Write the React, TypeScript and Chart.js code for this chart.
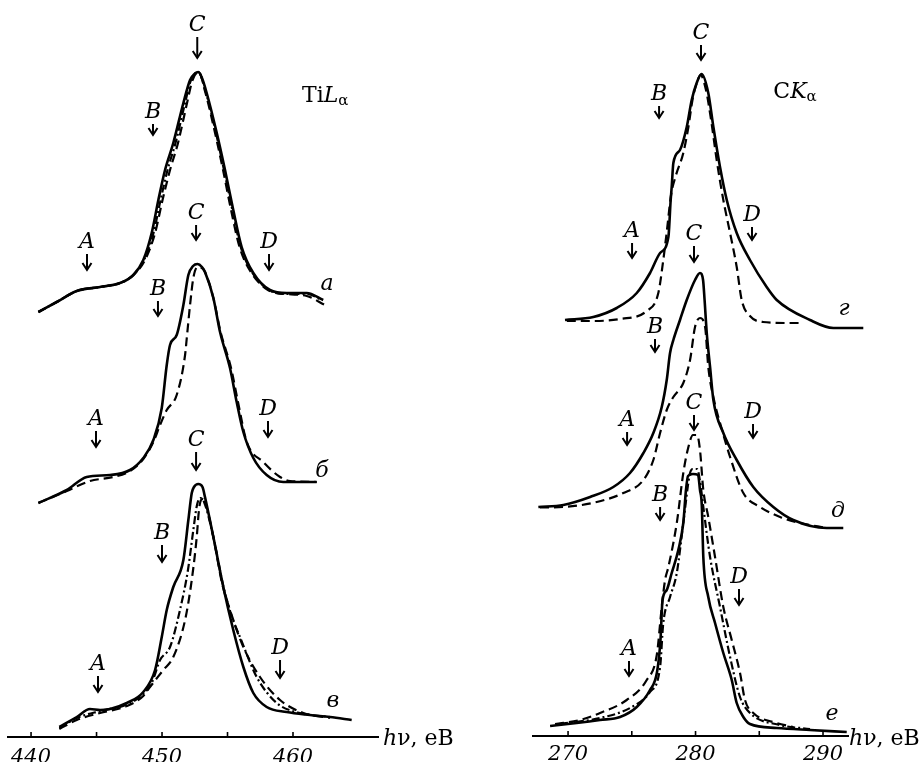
import React, { useEffect, useRef } from 'react';
import { Chart, registerables } from 'chart.js';
Chart.register(...registerables);

const FONT = '"DejaVu Serif", serif';

// ---------- Left panel: Ti Lα (hν, eV ; intensity, arb. units, curves offset) ----------
const tiTicks = [440, 445, 450, 455, 460];

const tiA_solid_x = [440.56, 441.96, 443.49, 445.27, 446.79, 447.81, 448.57, 449.21, 449.72, 450.23, 450.86, 451.63, 452.14, 452.48, 452.77, 453.05, 453.41, 454.18, 454.81, 455.44, 456.08, 456.97, 458.24, 459.52, 461.05, 462.31];
const tiA_solid_y = [425, 435, 446, 450, 454, 462, 477, 504, 537, 567, 594, 634, 657, 663, 665, 659, 644, 604, 567, 527, 490, 464, 447, 444, 444, 437];
const tiA_dash_x = [440.56, 441.96, 443.49, 445.27, 446.79, 447.81, 448.70, 449.47, 450.04, 450.61, 451.22, 451.91, 452.33, 452.79, 453.32, 454.05, 454.66, 455.27, 455.92, 456.83, 458.09, 459.52, 461.05, 462.44];
const tiA_dash_y = [425, 435, 446, 450, 454, 462, 477, 504, 537, 567, 594, 634, 657, 665, 644, 604, 567, 527, 490, 464, 447, 443, 441, 432];
const tiA_dot_x = [440.56, 441.96, 443.49, 445.27, 446.79, 447.81, 448.63, 449.35, 449.89, 450.42, 451.03, 451.76, 452.21, 452.77, 453.36, 454.12, 454.73, 455.37, 456.01, 456.91, 458.17, 459.52, 461.05, 462.21];
const tiA_dot_y = [425, 435, 446, 450, 454, 462, 477, 504, 537, 567, 594, 634, 657, 665, 644, 604, 567, 527, 490, 464, 447, 443, 443, 437];

const tiB_solid_x = [440.56, 442.73, 444.25, 446.03, 447.56, 448.57, 449.34, 449.98, 450.36, 450.61, 451.12, 451.63, 452.01, 452.37, 452.71, 453.05, 453.28, 453.92, 454.43, 455.19, 455.70, 456.21, 456.97, 457.99, 459.26, 461.81];
const tiB_solid_y = [234, 247, 260, 262, 267, 279, 297, 329, 372, 392, 402, 432, 462, 471, 473, 470, 465, 439, 405, 369, 335, 305, 279, 262, 255, 255];
const tiB_dash_x = [440.56, 442.73, 444.50, 446.28, 447.56, 448.57, 449.34, 449.85, 450.36, 451.12, 451.76, 451.89, 452.14, 452.39, 452.71, 453.05, 453.28, 453.92, 454.47, 455.27, 455.80, 456.47, 457.73, 459.01, 459.77, 461.81];
const tiB_dash_y = [234, 246, 256, 260, 266, 278, 295, 312, 327, 342, 382, 399, 432, 459, 470, 469, 465, 439, 405, 369, 335, 295, 275, 260, 256, 255];

const tiC_solid_x = [442.16, 443.49, 444.50, 445.27, 446.03, 447.31, 448.57, 449.47, 449.98, 450.36, 450.86, 451.63, 452.01, 452.27, 452.44, 452.77, 453.09, 453.28, 453.92, 454.68, 455.44, 456.21, 456.97, 457.99, 459.52, 461.30, 462.82, 464.48];
const tiC_solid_y = [10, 20, 28, 27, 28, 34, 45, 67, 100, 127, 150, 177, 217, 244, 250, 253, 250, 240, 200, 150, 107, 70, 44, 30, 25, 22, 20, 17];
const tiC_dash_x = [442.16, 443.49, 445.27, 447.31, 448.57, 449.08, 450.10, 450.86, 451.76, 452.27, 452.65, 452.82, 452.98, 453.13, 453.36, 453.92, 454.58, 455.19, 456.21, 457.48, 459.01, 460.79, 462.82];
const tiC_dash_y = [8, 17, 24, 31, 41, 50, 67, 80, 117, 157, 200, 227, 237, 238, 232, 200, 154, 127, 90, 60, 37, 24, 19];
const tiC_dot_x = [442.16, 443.49, 445.27, 447.31, 448.57, 449.24, 449.85, 450.61, 451.37, 451.98, 452.39, 452.67, 452.94, 453.21, 453.92, 454.66, 455.34, 455.95, 457.23, 458.76, 460.53, 462.82];
const tiC_dot_y = [9, 19, 26, 32.5, 43, 55, 77, 90, 127, 167, 207, 232, 239, 235, 200, 152, 120, 100, 60, 34, 24, 20];

// markers: letter, x (eV), letter baseline (intensity), arrow tip (intensity)
const tiMarkText = ['C', 'B', 'A', 'D', 'C', 'B', 'A', 'D', 'C', 'B', 'A', 'D'];
const tiMarkX = [452.69, 449.31, 444.27, 458.17, 452.60, 449.69, 444.96, 458.09, 452.60, 450.0, 445.11, 459.01];
const tiMarkY = [706, 619, 489, 489, 518, 442, 312, 322, 291, 198, 67, 83];
const tiMarkTip = [679, 602, 467, 467, 497, 421, 290, 300, 267, 175, 45, 59];
const tiCurveText = ['а', 'б', 'в'];
const tiCurveX = [462.6, 462.21, 463.05];
const tiCurveY = [447, 260, 30];

// ---------- Right panel: C Kα ----------
const cTicks = [270, 275, 280, 285, 290];

const cG_solid_x = [269.76, 271.98, 273.82, 275.39, 276.43, 277.22, 277.87, 278.05, 278.13, 278.26, 278.78, 279.31, 279.70, 280.09, 280.47, 281.00, 281.40, 281.92, 282.45, 283.23, 284.27, 285.58, 286.37, 288.98, 290.81, 293.16];
const cG_solid_y = [416, 419, 428, 443, 463, 483, 499, 536, 549, 573, 586, 609, 636, 653, 662, 643, 609, 569, 536, 503, 476, 449, 436, 416, 408, 408];
const cG_dash_x = [269.90, 271.98, 274.08, 276.17, 277.08, 277.47, 277.76, 278.08, 278.47, 279.04, 279.44, 279.76, 280.12, 280.39, 280.82, 281.22, 281.66, 282.18, 282.71, 283.23, 283.62, 284.27, 285.29, 287.41, 288.20];
const cG_dash_y = [415, 415, 417, 425, 443, 476, 506, 541, 561, 583, 609, 636, 654, 661, 646, 616, 576, 536, 503, 469, 436, 420, 414, 413, 413];

const cD_solid_x = [267.67, 269.63, 271.73, 273.55, 274.86, 275.91, 276.69, 277.35, 277.74, 278.00, 278.26, 278.78, 279.31, 279.96, 280.35, 280.59, 280.71, 280.88, 281.14, 281.40, 282.18, 283.23, 284.53, 286.10, 287.67, 290.29, 291.59];
const cD_solid_y = [229, 231, 239, 249, 263, 283, 303, 329, 356, 383, 396, 416, 436, 456, 463, 456, 436, 403, 369, 336, 303, 276, 249, 229, 216, 208, 208];
const cD_dash_x = [267.80, 269.63, 272.25, 274.34, 275.91, 276.69, 277.22, 277.74, 278.26, 279.04, 279.57, 279.96, 280.35, 280.75, 281.00, 281.45, 282.08, 282.71, 283.75, 285.06, 286.63, 288.20, 290.29];
const cD_dash_y = [228.5, 229, 234, 243, 256, 276, 303, 326, 339, 353, 376, 409, 418, 409, 369, 336, 306, 279, 243, 229, 219, 213, 208];

const cE_solid_x = [268.59, 270.68, 272.51, 274.08, 275.39, 276.43, 276.98, 277.25, 277.41, 277.74, 278.13, 278.65, 279.04, 279.25, 279.41, 279.80, 280.20, 280.35, 280.49, 280.61, 281.00, 281.53, 282.18, 282.84, 283.23, 283.75, 284.27, 286.37, 288.98, 291.86];
const cE_solid_y = [10, 13, 16, 19, 29, 46, 64, 96, 136, 146, 163, 186, 213, 246, 260, 262, 261, 246, 231, 179, 139, 113, 83, 56, 33, 19, 12, 8, 6, 4];
const cE_dash_x = [268.98, 270.94, 272.51, 274.60, 276.17, 276.96, 277.35, 277.61, 277.87, 278.53, 279.04, 279.44, 279.80, 280.12, 280.35, 280.61, 281.00, 281.53, 282.18, 282.84, 283.49, 283.88, 284.53, 286.37, 287.67];
const cE_dash_y = [12, 16, 23, 36, 56, 81, 129, 156, 169, 213, 263, 289, 301, 301, 286, 246, 219, 179, 129, 96, 63, 36, 23, 13, 9];
const cE_dot_x = [269.37, 272.51, 274.86, 276.43, 277.22, 277.47, 278.00, 278.53, 279.04, 279.57, 279.80, 280.12, 280.35, 280.61, 281.14, 281.92, 282.71, 283.49, 284.27, 286.63, 288.98];
const cE_dot_y = [12, 18, 28, 44, 69, 113, 139, 163, 213, 263, 267, 267, 255, 229, 179, 129, 79, 39, 23, 11, 7];

const cMarkText = ['C', 'B', 'A', 'D', 'C', 'B', 'A', 'D', 'C', 'B', 'A', 'D'];
const cMarkX = [280.43, 277.14, 275.02, 284.43, 279.88, 276.82, 274.63, 284.51, 279.88, 277.22, 274.78, 283.41];
const cMarkY = [697, 636, 499, 515, 496, 403, 310, 318, 327, 235, 81, 153];
const cMarkTip = [676, 618, 478, 496, 474, 384, 291, 298, 306, 216, 60, 131];
const cCurveText = ['г', 'д', 'е'];
const cCurveX = [291.65, 291.18, 290.71];
const cCurveY = [421, 219, 16];

type Style = 'solid' | 'dash' | 'dot';
const zip = (xs: number[], ys: number[]) => xs.map((x, i) => ({ x, y: ys[i] }));
const ds = (xs: number[], ys: number[], s: Style) => ({
  data: zip(xs, ys),
  borderColor: '#000',
  borderWidth: s === 'solid' ? 2.6 : 2.2,
  borderDash: s === 'solid' ? [] : s === 'dash' ? [9, 5] : [8, 3, 2, 3],
  pointRadius: 0,
  cubicInterpolationMode: 'monotone' as const,
  fill: false,
  clip: false as const,
});

type PanelCfg = {
  datasets: any[];
  min: number;
  max: number;
  yMax: number;
  ticks: number[];
  pad: { left: number; right: number; bottom: number };
  tickPad: number;
  markText: string[];
  markX: number[];
  markY: number[];
  markTip: number[];
  curveText: string[];
  curveX: number[];
  curveY: number[];
  title: [string, string, string];
  titleX: number;
  titleY: number;
  unitDx: number;
  unitDy: number;
};

function arrow(ctx: CanvasRenderingContext2D, x: number, y0: number, y1: number) {
  ctx.lineWidth = 2;
  ctx.beginPath();
  ctx.moveTo(x, y0);
  ctx.lineTo(x, y1);
  ctx.stroke();
  ctx.beginPath();
  ctx.moveTo(x - 4.5, y1 - 7);
  ctx.lineTo(x, y1);
  ctx.lineTo(x + 4.5, y1 - 7);
  ctx.stroke();
}

const decor = (p: PanelCfg) => ({
  id: 'decor',
  afterDatasetsDraw(chart: any) {
    const { ctx, chartArea } = chart;
    const x = chart.scales.x;
    const y = chart.scales.y;
    ctx.save();
    ctx.strokeStyle = '#000';
    ctx.fillStyle = '#000';
    ctx.lineCap = 'butt';
    // tick marks pointing upward
    ctx.lineWidth = 1.6;
    for (const v of p.ticks) {
      const px = x.getPixelForValue(v);
      ctx.beginPath();
      ctx.moveTo(px, chartArea.bottom);
      ctx.lineTo(px, chartArea.bottom - 5);
      ctx.stroke();
    }
    // A, B, C, D markers
    ctx.font = `italic 22px ${FONT}`;
    ctx.textAlign = 'center';
    ctx.textBaseline = 'alphabetic';
    for (let i = 0; i < p.markText.length; i++) {
      const px = x.getPixelForValue(p.markX[i]);
      const by = y.getPixelForValue(p.markY[i]);
      ctx.fillText(p.markText[i], px, by);
      arrow(ctx, px, by + 6, y.getPixelForValue(p.markTip[i]));
    }
    // curve labels
    for (let i = 0; i < p.curveText.length; i++) {
      ctx.fillText(p.curveText[i], x.getPixelForValue(p.curveX[i]), y.getPixelForValue(p.curveY[i]));
    }
    // title
    ctx.textAlign = 'left';
    let tx = x.getPixelForValue(p.titleX);
    const ty = y.getPixelForValue(p.titleY);
    ctx.font = `22px ${FONT}`;
    ctx.fillText(p.title[0], tx, ty);
    tx += ctx.measureText(p.title[0]).width;
    ctx.font = `italic 22px ${FONT}`;
    ctx.fillText(p.title[1], tx, ty);
    tx += ctx.measureText(p.title[1]).width;
    ctx.font = `15px ${FONT}`;
    ctx.fillText(p.title[2], tx, ty + 3);
    // unit label
    let ux = chartArea.right + p.unitDx;
    const uy = chartArea.bottom + p.unitDy;
    ctx.font = `italic 22px ${FONT}`;
    ctx.fillText('h', ux, uy);
    ux += ctx.measureText('h').width;
    ctx.font = `22px ${FONT}`;
    ctx.fillText('ν, eB', ux, uy);
    ctx.restore();
  },
});

function Panel({ cfg, left }: { cfg: PanelCfg; left: number }) {
  const ref = useRef<HTMLCanvasElement>(null);
  useEffect(() => {
    const chart = new Chart(ref.current as HTMLCanvasElement, {
      type: 'line',
      data: { datasets: cfg.datasets },
      options: {
        animation: false,
        responsive: false,
        devicePixelRatio: 1,
        layout: { padding: { left: cfg.pad.left, right: cfg.pad.right, top: 0, bottom: cfg.pad.bottom } },
        plugins: { legend: { display: false }, tooltip: { enabled: false } },
        scales: {
          x: {
            type: 'linear',
            min: cfg.min,
            max: cfg.max,
            grid: { display: false, drawTicks: false },
            border: { display: true, color: '#000', width: 2 },
            afterBuildTicks: (scale: any) => {
              scale.ticks = cfg.ticks.map((v) => ({ value: v }));
            },
            ticks: {
              autoSkip: false,
              maxRotation: 0,
              padding: cfg.tickPad,
              color: '#000',
              font: { family: FONT, style: 'italic', size: 21, lineHeight: 1.2 },
              callback: (v: any) => (Number(v) % 10 === 0 ? String(v) : ''),
            },
          },
          y: { display: false, min: 0, max: cfg.yMax },
        },
      } as any,
      plugins: [decor(cfg)],
    });
    return () => chart.destroy();
  }, []);
  return (
    <canvas
      ref={ref}
      width={460}
      height={790}
      style={{ position: 'absolute', left, top: 0, width: 460, height: 790 }}
    />
  );
}

const leftCfg: PanelCfg = {
  datasets: [
    ds(tiA_solid_x, tiA_solid_y, 'solid'),
    ds(tiA_dash_x, tiA_dash_y, 'dash'),
    ds(tiA_dot_x, tiA_dot_y, 'dot'),
    ds(tiB_solid_x, tiB_solid_y, 'solid'),
    ds(tiB_dash_x, tiB_dash_y, 'dash'),
    ds(tiC_solid_x, tiC_solid_y, 'solid'),
    ds(tiC_dash_x, tiC_dash_y, 'dash'),
    ds(tiC_dot_x, tiC_dot_y, 'dot'),
  ],
  min: 438.24,
  max: 466.49,
  yMax: 737,
  ticks: tiTicks,
  pad: { left: 8, right: 82, bottom: 11.6 },
  tickPad: 8.1,
  markText: tiMarkText,
  markX: tiMarkX,
  markY: tiMarkY,
  markTip: tiMarkTip,
  curveText: tiCurveText,
  curveX: tiCurveX,
  curveY: tiCurveY,
  title: ['Ti', 'L', 'α'],
  titleX: 460.69,
  titleY: 635,
  unitDx: 5,
  unitDy: 8,
};

const rightCfg: PanelCfg = {
  datasets: [
    ds(cG_solid_x, cG_solid_y, 'solid'),
    ds(cG_dash_x, cG_dash_y, 'dash'),
    ds(cD_solid_x, cD_solid_y, 'solid'),
    ds(cD_dash_x, cD_dash_y, 'dash'),
    ds(cE_solid_x, cE_solid_y, 'solid'),
    ds(cE_dash_x, cE_dash_y, 'dash'),
    ds(cE_dot_x, cE_dot_y, 'dot'),
  ],
  min: 267.25,
  max: 291.96,
  yMax: 736,
  ticks: cTicks,
  pad: { left: 73, right: 72, bottom: 17.0 },
  tickPad: 5.9,
  markText: cMarkText,
  markX: cMarkX,
  markY: cMarkY,
  markTip: cMarkTip,
  curveText: cCurveText,
  curveX: cCurveX,
  curveY: cCurveY,
  title: ['C', 'K', 'α'],
  titleX: 286.1,
  titleY: 638,
  unitDx: 1,
  unitDy: 9,
};

export default function App() {
  return (
    <div
      style={{
        position: 'absolute',
        left: 0,
        top: 0,
        width: 920,
        height: 762,
        overflow: 'hidden',
        background: '#fff',
      }}
    >
      <Panel cfg={leftCfg} left={0} />
      <Panel cfg={rightCfg} left={460} />
    </div>
  );
}
